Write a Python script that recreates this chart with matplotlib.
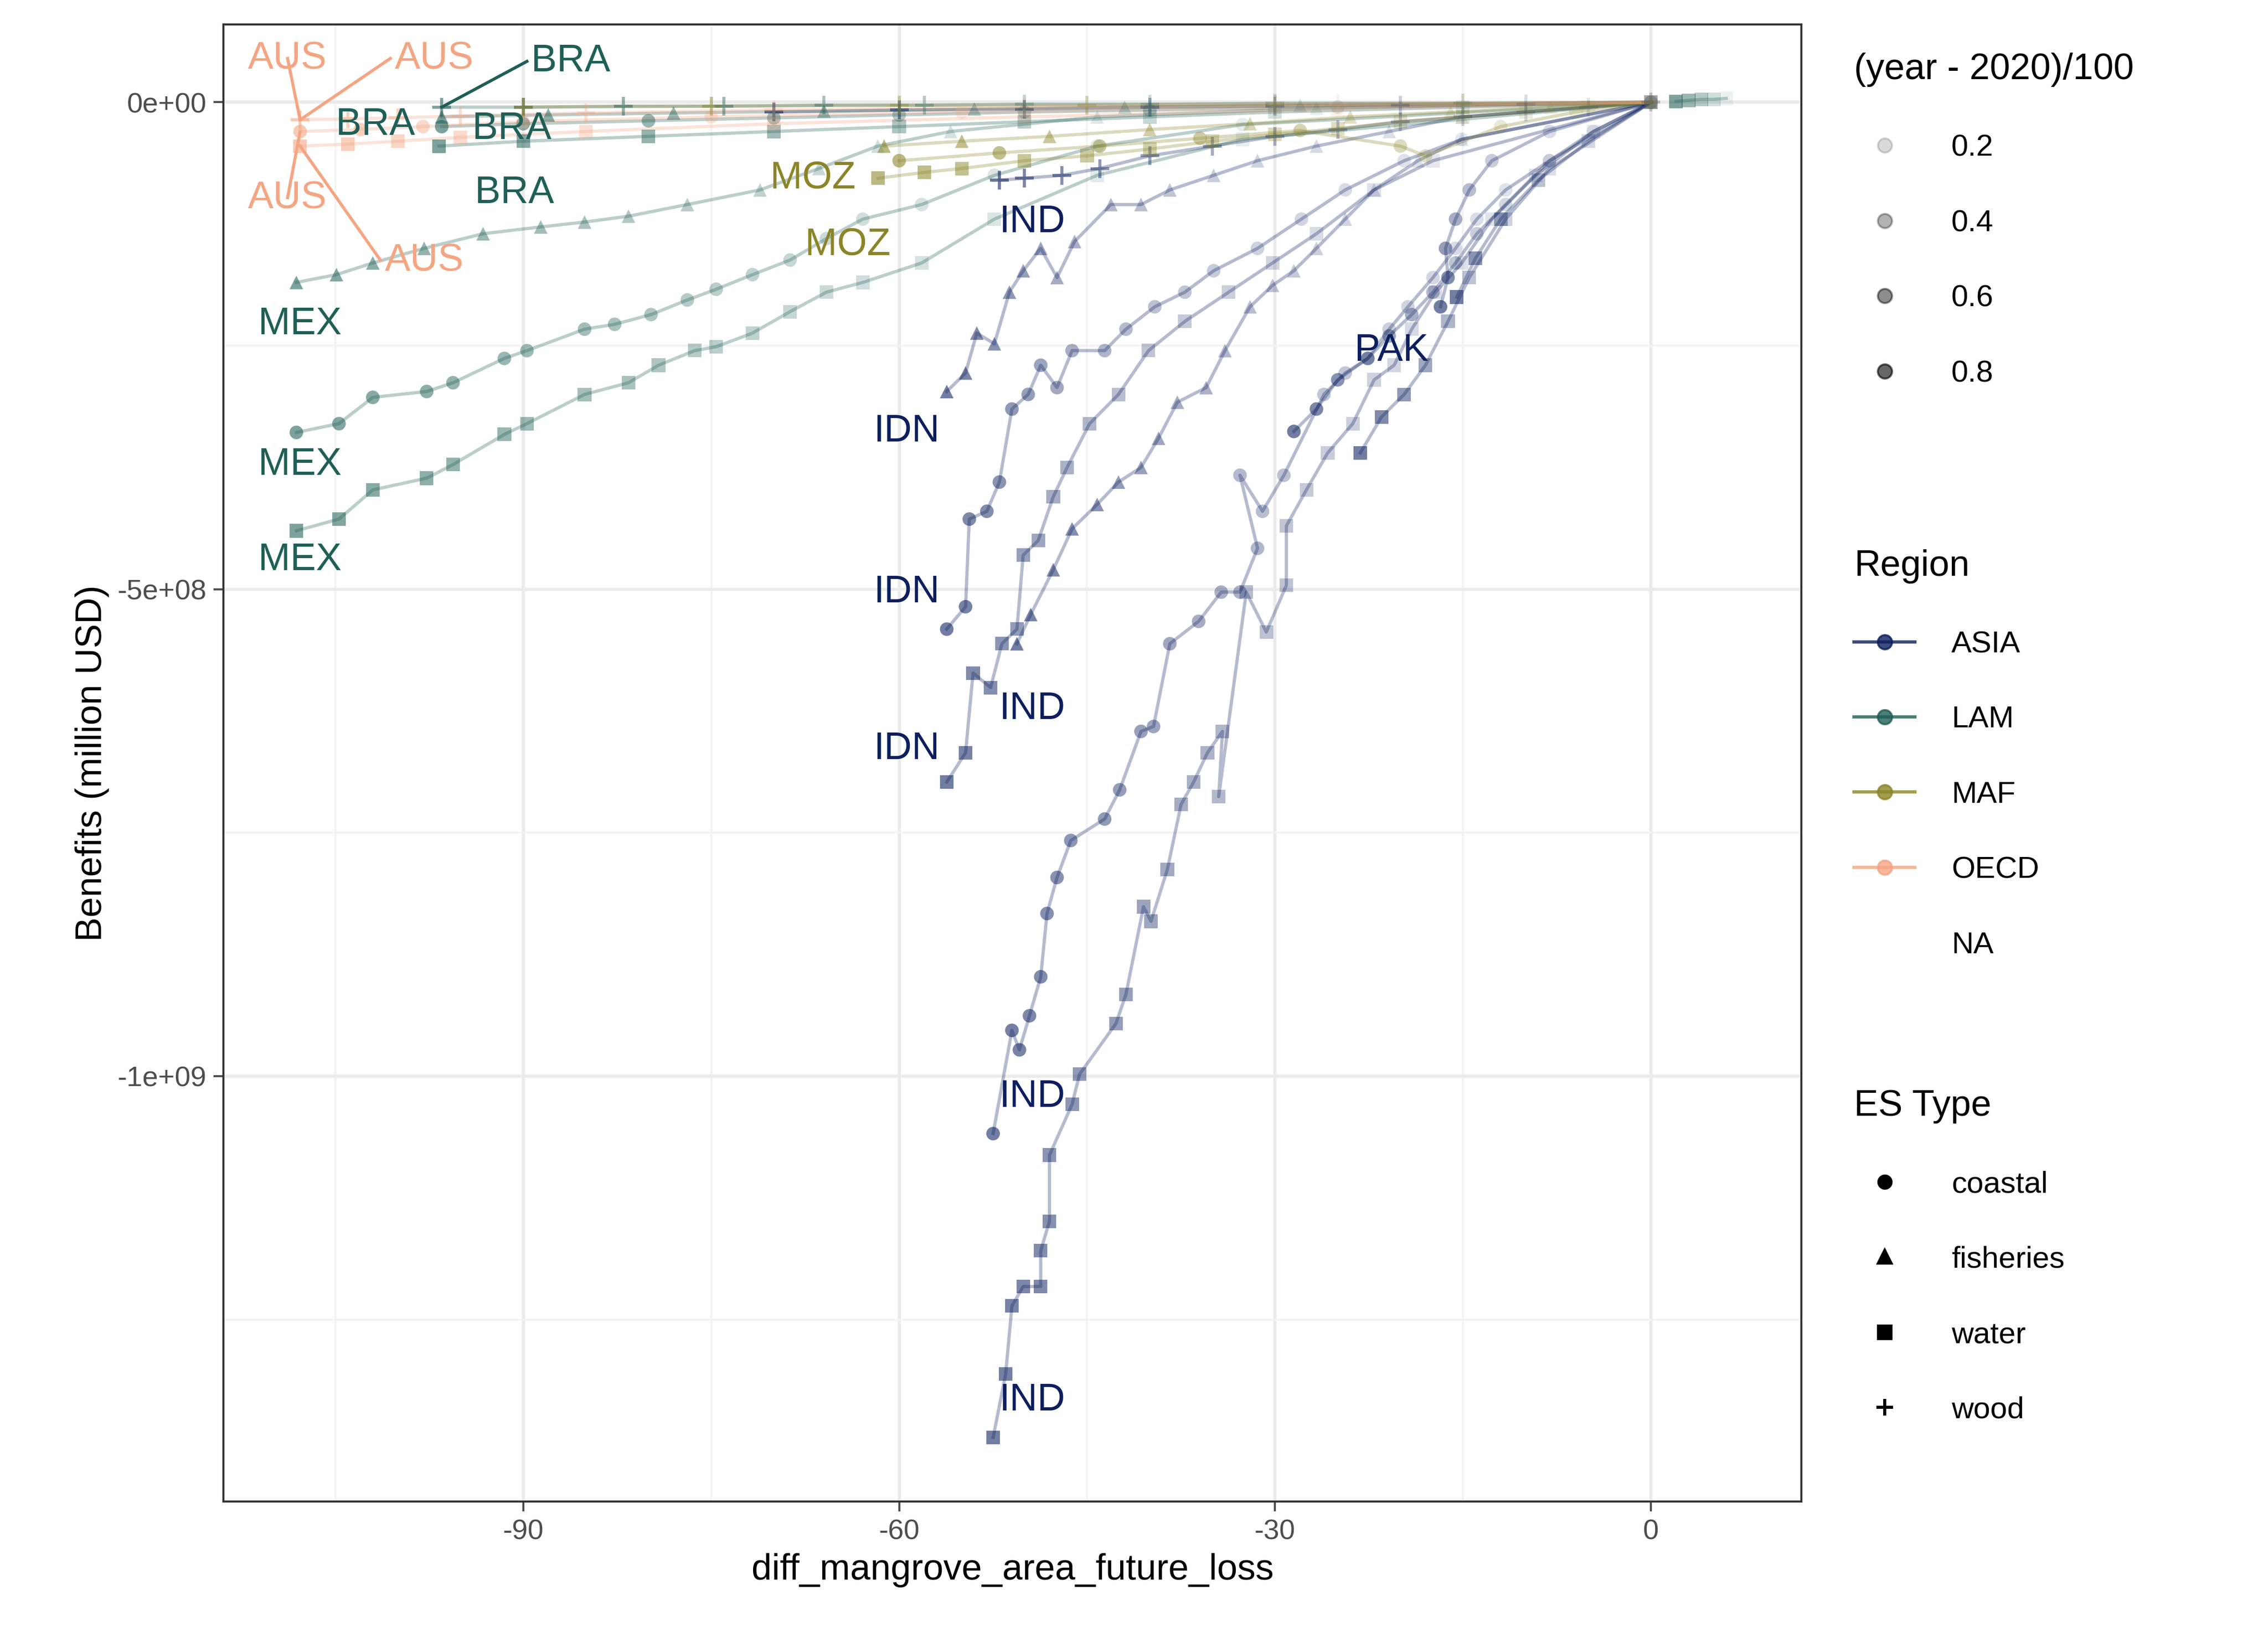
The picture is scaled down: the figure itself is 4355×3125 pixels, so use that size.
import matplotlib
matplotlib.use("Agg")
import matplotlib.pyplot as plt
from matplotlib.lines import Line2D
import numpy as np

plt.rcParams['font.family'] = ['Liberation Sans', 'DejaVu Sans']

# ---------------- data (x: diff area, y: benefits in 1e8 USD) ----------------
ind_coastal = [(-52.5,-10.59),(-51.0,-9.53),(-50.4,-9.73),(-49.6,-9.38),(-48.7,-8.98),(-48.2,-8.33),(-47.4,-7.96),
 (-46.3,-7.58),(-43.6,-7.36),(-42.4,-7.06),(-40.7,-6.46),(-39.7,-6.41),(-38.4,-5.56),(-36.1,-5.33),(-34.3,-5.03),
 (-32.8,-5.03),(-31.4,-4.58),(-32.8,-3.83),(-31.0,-4.20),(-29.3,-3.83),(-26.1,-3.00),(-24.4,-2.78),(-22.6,-2.63),
 (-20.9,-2.33),(-19.4,-2.10),(-17.4,-1.80),(-15.6,-1.50),(-13.9,-1.20),(-11.6,-0.90),(-8.1,-0.60),(-4.6,-0.30),(0,0)]
ind_water = [(-52.5,-13.71),(-51.5,-13.06),(-51.0,-12.36),(-50.1,-12.16),(-48.7,-12.16),(-48.7,-11.79),(-48.0,-11.49),
 (-48.0,-10.81),(-46.2,-10.29),(-45.6,-9.98),(-42.7,-9.46),(-41.9,-9.16),(-40.5,-8.26),(-39.9,-8.41),(-38.6,-7.88),
 (-37.5,-7.21),(-36.5,-6.98),(-35.4,-6.68),(-34.2,-6.46),(-34.5,-7.13),(-32.3,-5.03),(-30.7,-5.44),(-29.1,-4.96),
 (-29.1,-4.35),(-27.5,-3.98),(-25.8,-3.60),(-23.8,-3.30),(-22.1,-2.85),(-20.5,-2.70),(-19.1,-2.33),(-17.2,-1.95),
 (-15.1,-1.65),(-12.7,-1.20),(-9.2,-0.75),(-4.6,-0.30),(0,0)]
ind_fisheries = [(-50.6,-5.56),(-49.5,-5.26),(-47.7,-4.80),(-46.2,-4.38),(-44.2,-4.13),(-42.5,-3.90),(-40.7,-3.75),
 (-39.3,-3.45),(-37.8,-3.08),(-35.5,-2.93),(-34.0,-2.55),(-32.0,-2.10),(-30.2,-1.88),(-28.5,-1.73),(-26.7,-1.50),
 (-24.4,-1.20),(-22.1,-0.90),(-18.6,-0.60),(-15.1,-0.38),(0,0)]
ind_wood = [(-52,-0.80),(-50,-0.78),(-47,-0.75),(-44,-0.68),(-40,-0.55),(-35,-0.45),(-30,-0.35),(-25,-0.28),
 (-20,-0.20),(-15,-0.15),(-10,-0.10),(-5,-0.05),(0,0)]
idn_fisheries = [(-56.2,-2.97),(-54.7,-2.78),(-53.8,-2.37),(-52.4,-2.48),(-51.2,-1.95),(-50.1,-1.73),(-48.7,-1.50),
 (-47.4,-1.80),(-46.0,-1.43),(-43.1,-1.05),(-40.7,-1.05),(-38.4,-0.90),(-34.9,-0.75),(-31.4,-0.60),(-26.7,-0.45),
 (-20.9,-0.30),(-15.1,-0.15),(0,0)]
idn_coastal = [(-56.2,-5.41),(-54.7,-5.18),(-54.4,-4.28),(-53.0,-4.20),(-52.0,-3.90),(-51.0,-3.15),(-49.7,-3.00),
 (-48.7,-2.70),(-47.4,-2.93),(-46.2,-2.55),(-43.6,-2.55),(-41.9,-2.33),(-39.6,-2.10),(-37.2,-1.95),(-34.9,-1.73),
 (-31.4,-1.50),(-27.9,-1.20),(-24.4,-0.90),(-19.7,-0.60),(-15.1,-0.38),(0,0)]
idn_water = [(-56.2,-6.98),(-54.7,-6.68),(-54.1,-5.86),(-52.7,-6.01),(-51.8,-5.56),(-50.6,-5.41),(-50.1,-4.65),
 (-48.9,-4.50),(-47.7,-4.05),(-46.6,-3.75),(-44.8,-3.30),(-42.5,-3.00),(-40.1,-2.55),(-37.2,-2.25),(-33.7,-1.95),
 (-30.2,-1.65),(-26.7,-1.35),(-22.1,-0.90),(-17.4,-0.60),(0,0)]
pak_coastal = [(-28.5,-3.38),(-26.7,-3.15),(-25.0,-2.85),(-22.6,-2.63),(-20.9,-2.40),(-19.1,-2.18),(-17.4,-1.95),
 (-15.6,-1.65),(-13.9,-1.35),(-11.6,-1.05),(-8.1,-0.60),(0,0)]
pak_water = [(-23.2,-3.60),(-21.5,-3.23),(-19.7,-3.00),(-18.0,-2.70),(-16.2,-2.25),(-14.5,-1.80),(-11.6,-1.20),(-8.1,-0.68),(0,0)]
bgd_coastal = [(-16.8,-2.10),(-16.2,-1.80),(-16.4,-1.50),(-15.6,-1.20),(-14.5,-0.90),(-12.7,-0.60),(-8.1,-0.30),(0,0)]
bgd_water = [(-15.5,-2.00),(-14.0,-1.60),(-12.0,-1.20),(-9.0,-0.80),(-5.0,-0.40),(0,0)]
asia_wood = [(-70,-0.10),(-60,-0.08),(-50,-0.07),(-40,-0.05),(-30,-0.04),(-20,-0.03),(-10,-0.02),(0,0)]
mex_fisheries = [(-108.1,-1.85),(-104.9,-1.77),(-102.0,-1.65),(-97.9,-1.50),(-93.2,-1.35),(-88.6,-1.28),(-85.1,-1.23),
 (-81.6,-1.17),(-76.9,-1.05),(-71.1,-0.90),(-66.4,-0.68),(-61.7,-0.45),(-55.9,-0.30),(-44.2,-0.15),(-26.7,-0.06),(0,0)]
mex_coastal = [(-108.1,-3.39),(-104.7,-3.30),(-102.0,-3.03),(-97.7,-2.97),(-95.6,-2.88),(-91.5,-2.63),(-89.7,-2.55),
 (-85.1,-2.33),(-82.7,-2.28),(-79.8,-2.18),(-76.9,-2.03),(-74.6,-1.92),(-71.7,-1.77),(-68.7,-1.62),(-65.8,-1.40),
 (-62.9,-1.20),(-58.2,-1.05),(-52.4,-0.75),(-44.2,-0.45),(-32.6,-0.23),(0,0)]
mex_water = [(-108.1,-4.40),(-104.7,-4.28),(-102.0,-3.98),(-97.7,-3.86),(-95.6,-3.72),(-91.5,-3.41),(-89.7,-3.30),
 (-85.1,-3.00),(-81.6,-2.88),(-79.2,-2.70),(-76.3,-2.55),(-74.6,-2.51),(-71.7,-2.37),(-68.7,-2.15),(-65.8,-1.95),
 (-62.9,-1.85),(-58.2,-1.65),(-52.4,-1.20),(-44.2,-0.75),(-32.6,-0.38),(0,0)]
bra_water = [(-96.7,-0.45),(-90,-0.40),(-80,-0.35),(-70,-0.30),(-60,-0.25),(-50,-0.20),(-40,-0.15),(-30,-0.10),(-15,-0.05),(0,0)]
bra_coastal = [(-96.5,-0.25),(-90,-0.22),(-80,-0.19),(-70,-0.16),(-60,-0.13),(-50,-0.10),(-40,-0.08),(-25,-0.05),(0,0)]
bra_fisheries = [(-96.5,-0.15),(-88,-0.13),(-78,-0.11),(-66,-0.09),(-54,-0.07),(-42,-0.05),(-28,-0.03),(0,0)]
bra_wood = [(-96.5,-0.05),(-90,-0.05),(-82,-0.04),(-74,-0.04),(-66,-0.03),(-58,-0.03),(-50,-0.02),(-40,-0.02),(-30,-0.01),(-15,-0.01),(0,0)]
lam_gain = [(2.0,0.01),(3.0,0.02),(4.0,0.03),(5.0,0.03),(6.0,0.04)]
moz_water = [(-61.7,-0.78),(-58,-0.72),(-55,-0.68),(-50,-0.60),(-45,-0.55),(-40,-0.48),(-35,-0.40),(-30,-0.33),
 (-25,-0.27),(-20,-0.20),(-15,-0.15),(-10,-0.10),(-5,-0.05),(0,0)]
moz_fisheries = [(-61.2,-0.45),(-55,-0.40),(-48,-0.35),(-40,-0.28),(-32,-0.22),(-24,-0.15),(-16,-0.10),(-8,-0.05),(0,0)]
moz_coastal = [(-60.0,-0.60),(-52,-0.52),(-44,-0.45),(-36,-0.37),(-28,-0.29),(-20,-0.45),(-18,-0.55),(-12,-0.25),(-6,-0.10),(0,0)]
maf_wood = [(-90,-0.05),(-75,-0.04),(-60,-0.03),(-45,-0.03),(-30,-0.02),(-15,-0.01),(0,0)]
aus_water = [(-107.8,-0.45),(-104,-0.43),(-100,-0.40),(-95,-0.36),(-85,-0.30),(-70,-0.22),(-50,-0.15),(-25,-0.07),(0,0)]
aus_coastal = [(-107.8,-0.30),(-103,-0.28),(-98,-0.25),(-90,-0.20),(-75,-0.15),(-55,-0.10),(-30,-0.05),(0,0)]
aus_wood = [(-107.8,-0.18),(-104,-0.17),(-100,-0.16),(-95,-0.14),(-85,-0.11),(-70,-0.08),(-50,-0.05),(-25,-0.02),(0,0)]

series = [
    ("ASIA","coastal",ind_coastal),("ASIA","water",ind_water),("ASIA","fisheries",ind_fisheries),("ASIA","wood",ind_wood),
    ("ASIA","fisheries",idn_fisheries),("ASIA","coastal",idn_coastal),("ASIA","water",idn_water),
    ("ASIA","coastal",pak_coastal),("ASIA","water",pak_water),("ASIA","coastal",bgd_coastal),("ASIA","water",bgd_water),
    ("ASIA","wood",asia_wood),
    ("LAM","fisheries",mex_fisheries),("LAM","coastal",mex_coastal),("LAM","water",mex_water),
    ("LAM","water",bra_water),("LAM","coastal",bra_coastal),("LAM","fisheries",bra_fisheries),("LAM","wood",bra_wood),
    ("LAM","water",lam_gain),
    ("MAF","water",moz_water),("MAF","fisheries",moz_fisheries),("MAF","coastal",moz_coastal),("MAF","wood",maf_wood),
    ("OECD","water",aus_water),("OECD","coastal",aus_coastal),("OECD","wood",aus_wood),
]

labels = [("AUS",-108.8,0.45,"OECD",(-107.8,-0.18)),("AUS",-97.1,0.45,"OECD",(-107.8,-0.18)),
          ("AUS",-108.8,-0.98,"OECD",(-107.8,-0.30)),("AUS",-97.9,-1.62,"OECD",(-107.8,-0.45)),
          ("BRA",-86.2,0.42,"LAM",(-96.5,-0.05)),("BRA",-101.8,-0.23,"LAM",None),("BRA",-90.9,-0.27,"LAM",None),
          ("BRA",-90.7,-0.93,"LAM",None),("MOZ",-66.9,-0.78,"MAF",None),("MOZ",-64.1,-1.46,"MAF",None),
          ("IND",-49.4,-1.23,"ASIA",None),("IND",-49.4,-6.23,"ASIA",None),("IND",-49.4,-10.21,"ASIA",None),
          ("IND",-49.4,-13.33,"ASIA",None),("IDN",-59.4,-3.38,"ASIA",None),("IDN",-59.4,-5.03,"ASIA",None),
          ("IDN",-59.4,-6.64,"ASIA",None),("PAK",-20.7,-2.55,"ASIA",None),
          ("MEX",-107.8,-2.28,"LAM",None),("MEX",-107.8,-3.72,"LAM",None),("MEX",-107.8,-4.70,"LAM",None)]

region_colors = {"ASIA":"#0b1f5e","LAM":"#1f5f56","MAF":"#8b8528","OECD":"#f4a582"}
markers = {"coastal":"o","fisheries":"^","water":"s","wood":"+"}

# ---------------- plot ----------------
fig = plt.figure(figsize=(15.557,11.161), dpi=280)
ax = fig.add_axes([0.0986,0.077,0.6955,0.908])
for reg, es, pts in series:
    xs = np.array([p[0] for p in pts]); ys = np.array([p[1] for p in pts])*1e8
    c = region_colors[reg]
    ax.plot(xs, ys, color=c, alpha=0.3, lw=1.6, zorder=2)
    n = len(xs)
    for i,(x,y) in enumerate(zip(xs,ys)):
        a = 0.08 + 0.5*(n-1-i)/max(n-1,1)
        if es == "wood":
            ax.scatter(x,y,marker="+",s=90,color=c,alpha=a,linewidths=1.5,zorder=3)
        else:
            ax.scatter(x,y,marker=markers[es],s=45,color=c,alpha=a,edgecolors="none",zorder=3)

for txt,x,y,reg,seg in labels:
    c = region_colors[reg]
    if seg is not None:
        sx = x - 3.5 if x > seg[0] + 5 else x
        ax.plot([sx, seg[0]],[y*1e8,seg[1]*1e8],color=c,lw=1.5,zorder=4)
    ax.text(x,y*1e8,txt,color=c,fontsize=19,ha="center",va="center",zorder=5)

ax.set_xlim(-113.9,12.0)
ax.set_ylim(-1.437e9,0.08e9)
ax.set_xticks([-90,-60,-30,0]); ax.set_xticklabels(["-90","-60","-30","0"])
ax.set_xticks([-105,-75,-45,-15], minor=True)
ax.set_yticks([0,-5e8,-1e9]); ax.set_yticklabels(["0e+00","-5e+08","-1e+09"])
ax.set_yticks([-2.5e8,-7.5e8,-1.25e9], minor=True)
ax.grid(which="major",color="#ebebeb",lw=1.6)
ax.grid(which="minor",color="#f3f3f3",lw=0.9)
ax.set_axisbelow(True)
for s in ax.spines.values(): s.set_color("#333333"); s.set_linewidth(1.0)
ax.tick_params(which="major",labelsize=14,colors="#4d4d4d",length=5,width=1)
ax.tick_params(which="minor",length=0)
ax.set_xlabel("diff_mangrove_area_future_loss",fontsize=18)
ax.set_ylabel("Benefits (million USD)",fontsize=18)

# legends
fs=15
kw=dict(loc="upper left",frameon=False,fontsize=fs,title_fontsize=18,labelspacing=1.55,handletextpad=1.2,borderaxespad=0)
alpha_h=[Line2D([],[],marker="o",ls="",color="black",alpha=a,markersize=7) for a in (0.15,0.3,0.45,0.6)]
l1=fig.legend(alpha_h,["0.2","0.4","0.6","0.8"],title="(year - 2020)/100",bbox_to_anchor=(0.812,0.975),**kw)
l1._legend_box.align="left"
reg_h=[Line2D([],[],marker="o",color=region_colors[r],markersize=7,lw=1.6,alpha=0.8) for r in ("ASIA","LAM","MAF","OECD")]
reg_h.append(Line2D([],[],ls="",marker=""))
l2=fig.legend(reg_h,["ASIA","LAM","MAF","OECD","NA"],title="Region",bbox_to_anchor=(0.812,0.67),**kw)
l2._legend_box.align="left"
es_h=[Line2D([],[],marker=m,ls="",color="black",markersize=8 if m=="+" else 6,markeredgewidth=1.5) for m in ("o","^","s","+")]
l3=fig.legend(es_h,["coastal","fisheries","water","wood"],title="ES Type",bbox_to_anchor=(0.812,0.338),**kw)
l3._legend_box.align="left"

fig.savefig("out.png",dpi=280,facecolor="white")
